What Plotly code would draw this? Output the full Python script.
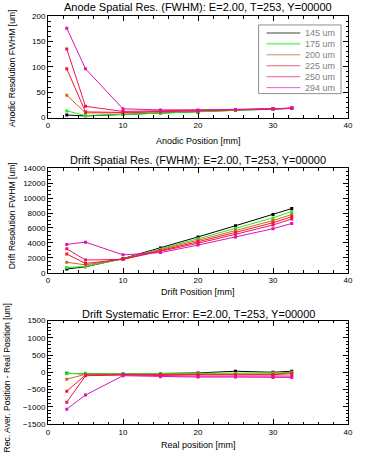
import plotly.graph_objects as go
from plotly.subplots import make_subplots

# positions along the chamber [mm]
positions = [2.5, 5, 10, 15, 20, 25, 30, 32.5]

labels = ["145 um", "175 um", "200 um", "225 um", "250 um", "294 um"]
colors = ["#000000", "#22ee22", "#d8641e", "#f41432", "#f0145a", "#dc14b4"]
legend_colors = ["#a0a0a0", "#90f090", "#d8906a", "#f06070", "#f06090", "#e060d0"]

anode_res = [
    [5, 3, 6, 9, 11, 14, 17, 18],
    [13, 4, 6, 9, 11, 14, 16, 18],
    [44, 9, 9, 11, 13, 15, 17, 18],
    [96, 11, 10, 12, 13, 15, 17, 18],
    [135, 22, 12, 13, 14, 16, 17, 18],
    [176, 96, 17, 15, 15, 16, 17, 19],
]

drift_res = [
    [500, 800, 1900, 3300, 4800, 6300, 7800, 8600],
    [700, 850, 1850, 3150, 4550, 5950, 7350, 8200],
    [1400, 1050, 1850, 3050, 4350, 5650, 7000, 7800],
    [2500, 1250, 1800, 2950, 4150, 5400, 6700, 7500],
    [3200, 1700, 1800, 2850, 3950, 5150, 6400, 7200],
    [3800, 4100, 2400, 2700, 3700, 4800, 5900, 6600],
]

drift_err = [
    [-30, -50, -50, -40, -20, 30, 0, 30],
    [-40, -30, -40, -40, -40, -30, -20, 0],
    [-200, -60, -60, -60, -60, -50, -50, -20],
    [-550, -80, -70, -70, -80, -80, -70, -40],
    [-870, -100, -80, -100, -110, -110, -110, -110],
    [-1070, -660, -100, -130, -140, -140, -150, -150],
]

titles = [
    "Anode Spatial Res. (FWHM): E=2.00, T=253, Y=00000",
    "Drift Spatial Res. (FWHM): E=2.00, T=253, Y=00000",
    "Drift Systematic Error: E=2.00, T=253, Y=00000",
]
xtitles = ["Anodic Position [mm]", "Drift Position [mm]", "Real position [mm]"]
ytitles = ["Anodic Resolution FWHM [um]", "Drift Resolution FWHM [um]",
           "Rec. Aver. Position - Real Position [um]"]

W, H = 365, 457
ML, MR, MT, MB = 48, 15, 14, 33
PW, PH = W - ML - MR, H - MT - MB


def px(x):
    return (x - ML) / PW


def py(y):
    return (H - MB - y) / PH


FONT = "Liberation Sans"

fig = make_subplots(rows=3, cols=1)

for row, data in enumerate([anode_res, drift_res, drift_err], start=1):
    for lab, col, ys in zip(labels, colors, data):
        fig.add_trace(go.Scatter(
            x=positions, y=ys, mode="lines+markers", name=lab,
            line=dict(color=col, width=1),
            marker=dict(symbol="square", size=3, color=col),
            showlegend=False,
        ), row=row, col=1)

domains = [[py(116), 1.0], [py(272), py(167)], [0.0, py(320)]]
yranges = [[0, 200], [0, 14000], [-1500, 1500]]
ydticks = [50, 2000, 500]
yminor = [10, 500, 100]

for i in range(3):
    ax = dict(
        showline=True, linecolor="black", linewidth=1, mirror="allticks",
        ticks="inside", ticklen=5, tickcolor="black", tickwidth=1,
        showgrid=False, zeroline=False, tickformat="d",
        tickfont=dict(family=FONT, size=8, color="black"),
    )
    fig.update_xaxes(range=[0, 40], dtick=10, tick0=0,
                     minor=dict(dtick=2, ticks="inside", ticklen=2.5, tickcolor="black"),
                     **ax, row=i + 1, col=1)
    fig.update_yaxes(range=yranges[i], dtick=ydticks[i], domain=domains[i],
                     minor=dict(dtick=yminor[i], ticks="inside", ticklen=2.5, tickcolor="black"),
                     **ax, row=i + 1, col=1)

annotations = []
title_y = [5, 159, 313]
xtitle_y = [140, 291, 445]
ytitle_x = [12, 12, 7]
ytitle_y = [67, 215, 378]
for i in range(3):
    annotations.append(dict(text=titles[i], x=0.5, y=py(title_y[i]), xref="paper", yref="paper",
                            xanchor="center", yanchor="middle", showarrow=False,
                            font=dict(family=FONT, size=11, color="black")))
    annotations.append(dict(text=xtitles[i], x=0.5, y=py(xtitle_y[i]), xref="paper", yref="paper",
                            xanchor="center", yanchor="middle", showarrow=False,
                            font=dict(family=FONT, size=9, color="black")))
    annotations.append(dict(text=ytitles[i], x=px(ytitle_x[i]), y=py(ytitle_y[i]), xref="paper",
                            yref="paper", xanchor="center", yanchor="middle",
                            textangle=-90, showarrow=False,
                            font=dict(family=FONT, size=8.6, color="black")))

# legend box drawn by hand, top right of the first panel
shapes = [dict(type="rect", xref="paper", yref="paper", x0=px(260), x1=px(343),
               y0=py(92), y1=py(23), line=dict(color="#909090", width=1), fillcolor="white")]
for k, (lab, lc) in enumerate(zip(labels, legend_colors)):
    yy = py(31 + 11 * k)
    shapes.append(dict(type="line", xref="paper", yref="paper", x0=px(268), x1=px(302),
                       y0=yy, y1=yy, line=dict(color=lc, width=2 if k < 2 else 1)))
    annotations.append(dict(text=lab, x=px(305), y=yy, xref="paper", yref="paper",
                            xanchor="left", yanchor="middle", showarrow=False,
                            font=dict(family=FONT, size=9, color="#808080")))

fig.update_layout(
    width=W, height=H,
    margin=dict(l=ML, r=MR, t=MT, b=MB),
    plot_bgcolor="white", paper_bgcolor="white",
    annotations=annotations, shapes=shapes,
    showlegend=False,
)

fig.write_html("out.html", config={"displayModeBar": False},
               post_script="document.body.style.margin='0';document.body.style.padding='0';")
